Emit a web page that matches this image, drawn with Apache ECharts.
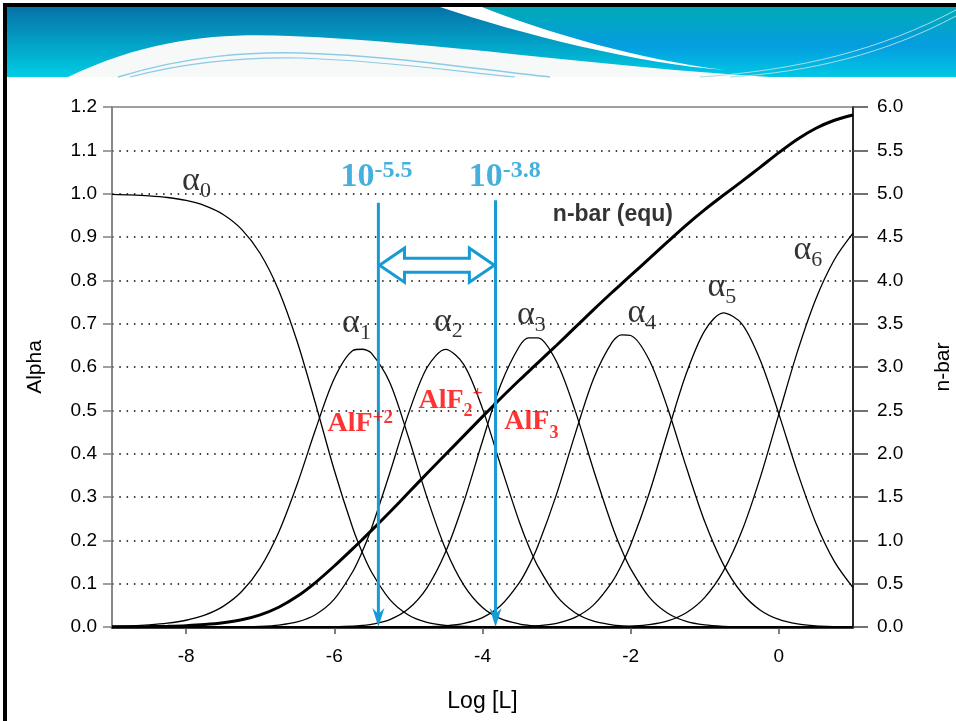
<!DOCTYPE html>
<html><head><meta charset="utf-8">
<script src="https://cdn.jsdelivr.net/npm/echarts@6/dist/echarts.min.js"></script>
<style>html,body{margin:0;padding:0;background:#fff;}#chart{width:956px;height:721px;}</style>
</head><body><div id="chart"></div>
<script>
// ---- data ----
const logL = [-9,-8.75,-8.5,-8.25,-8,-7.75,-7.5,-7.25,-7,-6.75,-6.5,-6.25,-6,-5.75,-5.625,-5.5,-5.25,-5,-4.75,-4.5,-4.25,-4,-3.75,-3.5,-3.375,-3.25,-3,-2.75,-2.5,-2.25,-2.125,-2,-1.75,-1.5,-1.25,-1,-0.75,-0.5,-0.25,0,0.25,0.5,0.75,1];
const alpha0 = [0.9984,0.9972,0.9950,0.9912,0.9844,0.9725,0.9521,0.9177,0.8619,0.7768,0.6583,0.5134,0.3618,0.2279,0.1731,0.1276,0.0633,0.0277,0.0106,0.0036,0.0011,0.0003,0.0001,0,0,0,0,0,0,0,0,0,0,0,0,0,0,0,0,0,0,0,0,0];
const alpha1 = [0.0016,0.0028,0.0050,0.0088,0.0156,0.0274,0.0477,0.0818,0.1366,0.2189,0.3300,0.4576,0.5734,0.6380,0.6410,0.6320,0.5639,0.4384,0.2998,0.1806,0.0959,0.0449,0.0186,0.0068,0.0039,0.0022,0.0006,0.0002,0,0,0,0,0,0,0,0,0,0,0,0,0,0,0,0];
const alpha2 = [0,0,0,0,0,0.0001,0.0002,0.0005,0.0015,0.0044,0.0117,0.0289,0.0643,0.1281,0.1731,0.2268,0.3558,0.4918,0.5982,0.6406,0.6051,0.5040,0.3704,0.2410,0.1859,0.1394,0.0719,0.0330,0.0134,0.0049,0.0028,0.0016,0.0005,0.0001,0,0,0,0,0,0,0,0,0,0];
const alpha3 = [0,0,0,0,0,0,0,0,0,0,0,0.0001,0.0005,0.0019,0.0035,0.0061,0.0170,0.0419,0.0905,0.1724,0.2897,0.4292,0.5607,0.6485,0.6674,0.6673,0.6120,0.4994,0.3618,0.2332,0.1794,0.1342,0.0691,0.0318,0.0131,0.0048,0.0016,0.0005,0.0001,0,0,0,0,0];
const alpha4 = [0,0,0,0,0,0,0,0,0,0,0,0,0,0,0,0,0,0.0002,0.0008,0.0027,0.0082,0.0215,0.0500,0.1028,0.1410,0.1881,0.3067,0.4451,0.5734,0.6572,0.6742,0.6727,0.6161,0.5043,0.3691,0.2427,0.1446,0.0785,0.0388,0.0174,0.0071,0.0027,0.0010,0.0003];
const alpha5 = [0,0,0,0,0,0,0,0,0,0,0,0,0,0,0,0,0,0,0,0,0,0.0001,0.0003,0.0009,0.0017,0.0030,0.0086,0.0223,0.0511,0.1042,0.1425,0.1896,0.3088,0.4495,0.5849,0.6841,0.7249,0.6997,0.6152,0.4913,0.3574,0.2396,0.1508,0.0909];
const alpha6 = [0,0,0,0,0,0,0,0,0,0,0,0,0,0,0,0,0,0,0,0,0,0,0,0,0,0,0,0,0.0002,0.0006,0.0011,0.0019,0.0055,0.0142,0.0329,0.0684,0.1289,0.2213,0.3459,0.4913,0.6355,0.7577,0.8482,0.9088];
const nBar = [0.0016,0.0028,0.0050,0.0088,0.0156,0.0275,0.0480,0.0828,0.1397,0.2276,0.3535,0.5157,0.7037,0.9042,1.0070,1.1115,1.3267,1.5485,1.7711,1.9901,2.2080,2.4269,2.6427,2.8501,2.9506,3.0502,3.2509,3.4565,3.6626,3.8624,3.9596,4.0560,4.2497,4.4459,4.6376,4.8161,4.9810,5.1418,5.3068,5.4739,5.6284,5.7550,5.8473,5.9085];
const xTickValues = [-8,-6,-4,-2,0];

// annotation texts and their data-space anchors
const curveDigits = ['0','1','2','3','4','5','6'];
const curveLabelX = [-7.86,-5.70,-4.46,-3.34,-1.85,-0.77,0.39];
const curveLabelY = [1.025,0.697,0.700,0.716,0.720,0.780,0.866];
const speciesBase = ['AlF','AlF','AlF'];
const speciesSub = ['','2','3'];
const speciesSup = ['+2','+',''];
const speciesX = [-5.65,-4.43,-3.34];
const speciesY = [0.471,0.517,0.466];
const concExp = ['-5.5','-3.8'];
const concX = [-5.43,-3.70];
const concY = [1.04,1.04];
const markerX = [-5.405,-3.824];
const markerTop = [0.979,0.985];
const rangeArrow = [-5.39, 0.835, -3.84];
const nBarText = 'n-bar (equ)';
const nBarTextPos = [-2.24, 0.951];

// ---- chart ----
const SANS = 'Liberation Sans, Arial, sans-serif';
const SERIF = 'Liberation Serif, Times New Roman, serif';
const BLUE = '#169bd5';
const alphaSets = [alpha0, alpha1, alpha2, alpha3, alpha4, alpha5, alpha6];
const pairs = arr => logL.map((x, i) => [x, arr[i]]);

const series = [];
// decorative slide banner (pixel artwork, not data)
series.push({
  type: 'custom', coordinateSystem: 'none', silent: true, z: -10, data: [0],
  renderItem: () => ({ type: 'group', children: [
    { type: 'rect', shape: { x: 7, y: 7, width: 949, height: 70 },
      style: { fill: { type: 'linear', x: 0, y: 0, x2: 0, y2: 1, colorStops: [{ offset: 0, color: '#0672a8' }, { offset: 1, color: '#00cde3' }] } } },
    { type: 'path', shape: { pathData: 'M 482 7 L 956 7 L 956 77 L 705 77 C 640 62 545 32 482 7 Z' },
      style: { fill: { type: 'linear', x: 0, y: 0, x2: 0, y2: 1, colorStops: [{ offset: 0, color: '#00aab6' }, { offset: 0.55, color: '#059de0' }, { offset: 1, color: '#00c8e4' }] } } },
    { type: 'path', shape: { pathData: 'M 440 7 L 482 7 C 545 32 640 60 725 70 C 640 64 520 34 440 7 Z' },
      style: { fill: '#ffffff' } },
    { type: 'path', shape: { pathData: 'M 68 77 C 150 38 220 33 290 36 C 440 42 590 66 770 77 Z' },
      style: { fill: '#f7f9f9' } },
    { type: 'path', shape: { pathData: 'M 118 77 C 190 55 250 52 300 53 C 400 56 480 70 550 77' },
      style: { fill: 'none', stroke: '#8ccbe6', lineWidth: 1.5 } },
    { type: 'path', shape: { pathData: 'M 130 77 C 195 60 250 57 300 58 C 390 61 460 72 515 77' },
      style: { fill: 'none', stroke: '#8ccbe6', lineWidth: 1.2 } },
    { type: 'path', shape: { pathData: 'M 956 10 C 880 50 800 70 700 77' },
      style: { fill: 'none', stroke: '#a8dcea', lineWidth: 1 } },
    { type: 'path', shape: { pathData: 'M 956 16 C 885 54 810 72 730 77' },
      style: { fill: 'none', stroke: '#a8dcea', lineWidth: 1 } },
    { type: 'rect', shape: { x: 3, y: 3, width: 953, height: 4 }, style: { fill: '#000' } },
    { type: 'rect', shape: { x: 3, y: 3, width: 4, height: 718 }, style: { fill: '#000' } }
  ] })
});
alphaSets.forEach((arr, k) => series.push({
  type: 'line', name: 'alpha' + k, data: pairs(arr), showSymbol: false,
  smooth: 0.3, silent: true, z: 3,
  lineStyle: { color: '#000', width: 1.3 }
}));
series.push({
  type: 'line', name: 'nbar', yAxisIndex: 1, data: pairs(nBar), showSymbol: false,
  smooth: 0.3, silent: true, z: 4, lineStyle: { color: '#000', width: 3 }
});
// blue vertical marker arrows
series.push({
  type: 'custom', silent: true, z: 6,
  data: markerX.map((x, i) => [x, markerTop[i]]),
  encode: { x: 0, y: 1 },
  renderItem: (params, api) => {
    const x = api.value(0), top = api.value(1);
    const p0 = api.coord([x, top]), p1 = api.coord([x, 0]);
    return { type: 'group', children: [
      { type: 'line', shape: { x1: p0[0], y1: p0[1], x2: p1[0], y2: p1[1] - 10 },
        style: { stroke: BLUE, lineWidth: 3 } },
      { type: 'polygon', shape: { points: [[p1[0], p1[1]], [p1[0] - 6, p1[1] - 19], [p1[0], p1[1] - 13], [p1[0] + 6, p1[1] - 19]] },
        style: { fill: BLUE } }
    ] };
  }
});
// hollow double arrow
series.push({
  type: 'custom', silent: true, z: 6,
  data: [rangeArrow],
  encode: { x: [0, 2], y: 1 },
  renderItem: (params, api) => {
    const a = api.coord([api.value(0), api.value(1)]);
    const b = api.coord([api.value(2), api.value(1)]);
    const y = a[1], hl = 25, hh = 17, sh = 7;
    const pts = [[a[0], y], [a[0] + hl, y - hh], [a[0] + hl, y - sh], [b[0] - hl, y - sh], [b[0] - hl, y - hh], [b[0], y],
                 [b[0] - hl, y + hh], [b[0] - hl, y + sh], [a[0] + hl, y + sh], [a[0] + hl, y + hh]];
    return { type: 'polygon', shape: { points: pts }, style: { fill: '#fff', stroke: BLUE, lineWidth: 3, lineJoin: 'miter' } };
  }
});
// text annotations
const textItems = [];
curveDigits.forEach((d, i) => textItems.push({ value: [curveLabelX[i], curveLabelY[i]], label: { formatter: '{g|α}{d|' + d + '}' } }));
speciesBase.forEach((b, i) => {
  let f;
  if (speciesSub[i]) f = '{mr|' + b + '}{sub|' + speciesSub[i] + '}' + (speciesSup[i] ? '{supr|' + speciesSup[i] + '}' : '');
  else f = '{m|' + b + '}' + (speciesSup[i] ? '{sup|' + speciesSup[i] + '}' : '');
  textItems.push({ value: [speciesX[i], speciesY[i]], label: { formatter: f } });
});
concExp.forEach((e, i) => textItems.push({ value: [concX[i], concY[i]], label: { formatter: '{t|10}{te|' + e + '}' } }));
textItems.push({ value: nBarTextPos, label: { formatter: '{nb|' + nBarText + '}' } });
series.push({
  type: 'scatter', silent: true, z: 8, symbolSize: 0, data: textItems,
  label: { show: true, position: 'inside', rich: {
    g: { fontFamily: SERIF, fontSize: 34, color: '#000', verticalAlign: 'bottom', padding: [0, 0, 4, 0] },
    d: { fontFamily: SERIF, fontSize: 22, color: '#000', verticalAlign: 'bottom' },
    m: { fontFamily: SERIF, fontWeight: 'bold', fontSize: 28, color: '#ff0000', verticalAlign: 'bottom' },
    mr: { fontFamily: SERIF, fontWeight: 'bold', fontSize: 28, color: '#ff0000', verticalAlign: 'bottom', padding: [0, 0, 6, 0] },
    sub: { fontFamily: SERIF, fontWeight: 'bold', fontSize: 18, color: '#ff0000', verticalAlign: 'bottom' },
    sup: { fontFamily: SERIF, fontWeight: 'bold', fontSize: 19, color: '#ff0000', verticalAlign: 'bottom', padding: [0, 0, 10, 0] },
    supr: { fontFamily: SERIF, fontWeight: 'bold', fontSize: 18, color: '#ff0000', verticalAlign: 'bottom', padding: [0, 0, 17, 0] },
    t: { fontFamily: SERIF, fontWeight: 'bold', fontSize: 34, color: BLUE, verticalAlign: 'bottom' },
    te: { fontFamily: SERIF, fontWeight: 'bold', fontSize: 24, color: BLUE, verticalAlign: 'bottom', padding: [0, 0, 12, 0] },
    nb: { fontFamily: SANS, fontWeight: 'bold', fontSize: 23, color: '#000' }
  } }
});

const option = {
  animation: false,
  grid: { left: 112, right: 103, top: 107, bottom: 94, show: true, borderColor: '#808080', borderWidth: 1.5, outerBoundsMode: 'none', containLabel: false },
  xAxis: {
    type: 'value', min: -9, max: 1, interval: 1,
    name: 'Log [L]', nameLocation: 'middle', nameGap: 63,
    nameTextStyle: { fontFamily: SANS, fontSize: 23, color: '#000' },
    axisLine: { show: true, onZero: false, lineStyle: { color: '#000', width: 2.5 } },
    axisTick: { show: true, length: 7, customValues: xTickValues, lineStyle: { color: '#555', width: 1.5 } },
    axisLabel: { margin: 20, fontFamily: SANS, fontSize: 19, color: '#000', customValues: xTickValues },
    splitLine: { show: false }
  },
  yAxis: [{
    type: 'value', min: 0, max: 1.2, interval: 0.1, position: 'left',
    name: 'Alpha', nameLocation: 'middle', nameGap: 66,
    nameTextStyle: { fontFamily: SANS, fontSize: 21, color: '#000' },
    axisLine: { show: true, onZero: false, lineStyle: { color: '#808080', width: 1.5 } },
    axisTick: { show: true, length: 9, lineStyle: { color: '#808080', width: 1.5 } },
    axisLabel: { margin: 15, fontFamily: SANS, fontSize: 19, color: '#000', formatter: v => v.toFixed(1) },
    splitLine: { show: true, showMinLine: false, showMaxLine: false, lineStyle: { color: '#000', width: 1.5, type: [1.5, 5.8] } }
  }, {
    type: 'value', min: 0, max: 6, interval: 0.5, position: 'right',
    name: 'n-bar', nameLocation: 'middle', nameGap: 80,
    nameTextStyle: { fontFamily: SANS, fontSize: 21, color: '#000' },
    axisLine: { show: true, onZero: false, lineStyle: { color: '#000', width: 1.5 } },
    axisTick: { show: true, length: 15, lineStyle: { color: '#444', width: 1.5 } },
    axisLabel: { margin: 24, fontFamily: SANS, fontSize: 19, color: '#000', formatter: v => v.toFixed(1) },
    splitLine: { show: false }
  }],
  series: series
};
const chart = echarts.init(document.getElementById('chart'), null, { renderer: 'canvas' });
chart.setOption(option);
</script>
</body></html>
